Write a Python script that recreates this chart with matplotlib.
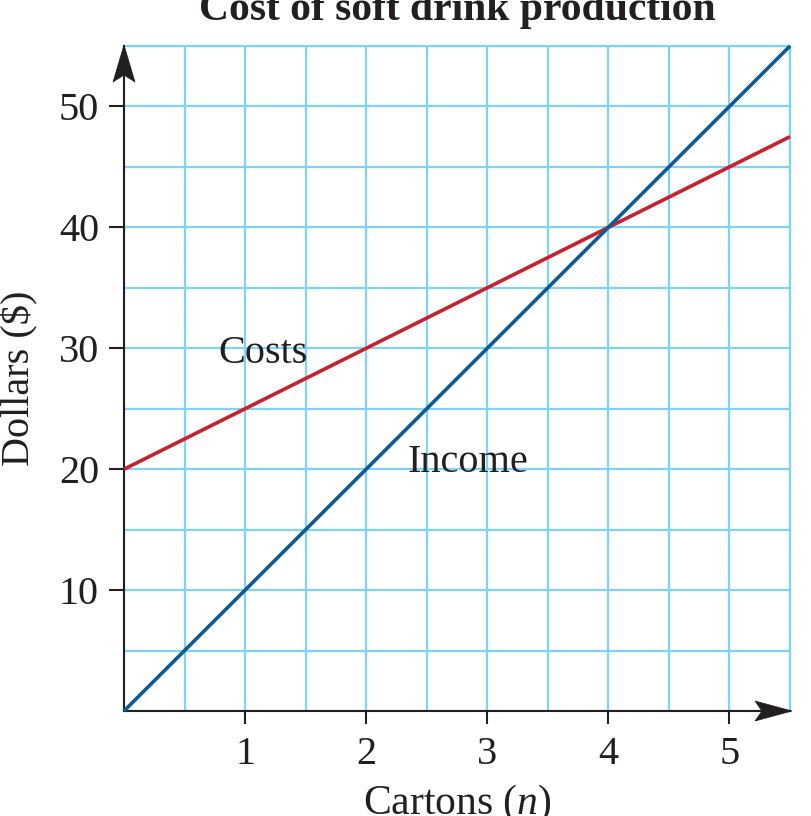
import matplotlib
matplotlib.use("Agg")
import matplotlib.pyplot as plt
from matplotlib.patches import Polygon
from matplotlib import transforms

# data
cartons = [0, 1, 2, 3, 4, 5, 5.5]
costs = [20, 25, 30, 35, 40, 45, 47.5]
income = [0, 10, 20, 30, 40, 50, 55]
x_ticks = [1, 2, 3, 4, 5]
y_ticks = [10, 20, 30, 40, 50]

plt.rcParams["font.family"] = ["Liberation Serif", "DejaVu Serif"]
plt.rcParams["mathtext.fontset"] = "custom"
plt.rcParams["mathtext.rm"] = "Liberation Serif"
plt.rcParams["mathtext.it"] = "Liberation Serif:italic"

GRID = "#7fd3f5"
AXIS = "#231f20"
RED = "#cc1f2e"
BLUE = "#0f5a92"

fig = plt.figure(figsize=(8.12, 8.16), dpi=100)
ax = fig.add_axes([124 / 812, 1 - 711 / 816, 666 / 812, 665 / 816])

ax.set_xlim(0, 5.5)
ax.set_ylim(0, 55)
ax.set_xticks(x_ticks)
ax.set_yticks(y_ticks)
ax.set_xticks([i * 0.5 for i in range(12)], minor=True)
ax.set_yticks([i * 5 for i in range(12)], minor=True)
ax.grid(True, which="both", color=GRID, linewidth=1.6, zorder=0)
ax.set_axisbelow(True)

ax.tick_params(axis="x", which="major", direction="out", length=9, width=1.5,
               color=AXIS, pad=9, labelsize=29, labelcolor=AXIS)
ax.tick_params(axis="y", which="major", direction="out", length=11, width=1.5,
               color=AXIS, pad=7, labelsize=29, labelcolor=AXIS)
ax.tick_params(which="minor", length=0)

for side in ["top", "right"]:
    ax.spines[side].set_color(GRID)
    ax.spines[side].set_linewidth(1.6)
for side in ["left", "bottom"]:
    ax.spines[side].set_color(AXIS)
    ax.spines[side].set_linewidth(1.5)
    ax.spines[side].set_zorder(3)

ax.plot(cartons, costs, color=RED, linewidth=2.6, zorder=4, clip_on=False,
        solid_capstyle="butt")
ax.plot(cartons, income, color=BLUE, linewidth=2.6, zorder=5, clip_on=False,
        solid_capstyle="butt")

ax.text(0.78, 28.8, "Costs", fontsize=29, color=AXIS, va="baseline", zorder=6)
ax.text(2.34, 19.8, "Income", fontsize=29, color=AXIS, va="baseline", zorder=6)

# arrowheads on the axes (vertices in pixels, anchored to the axes corners)
def arrowhead(verts, ax_x, ax_y):
    tr = transforms.Affine2D() + transforms.ScaledTranslation(ax_x, ax_y, ax.transAxes)
    poly = Polygon(verts, closed=True, facecolor=AXIS, edgecolor=AXIS,
                   linewidth=0.5, transform=tr, clip_on=False, zorder=7)
    ax.add_patch(poly)

arrowhead([(0, 1), (11, -36), (0, -29), (-11, -36)], 0, 1)
arrowhead([(2, 0), (-35, 10), (-28, 0), (-35, -10)], 1, 0)

ax.set_xlabel("Cartons ($\\mathit{n}$)", fontsize=30, color=AXIS, labelpad=7)
ax.set_ylabel("Dollars (\\$)", fontsize=29, color=AXIS, labelpad=15)

fig.text(457 / 812, 1 - 20 / 816, "Cost of soft drink production",
         fontsize=30, fontweight="bold", ha="center", va="baseline", color=AXIS)

fig.savefig("out.png", dpi=100)
